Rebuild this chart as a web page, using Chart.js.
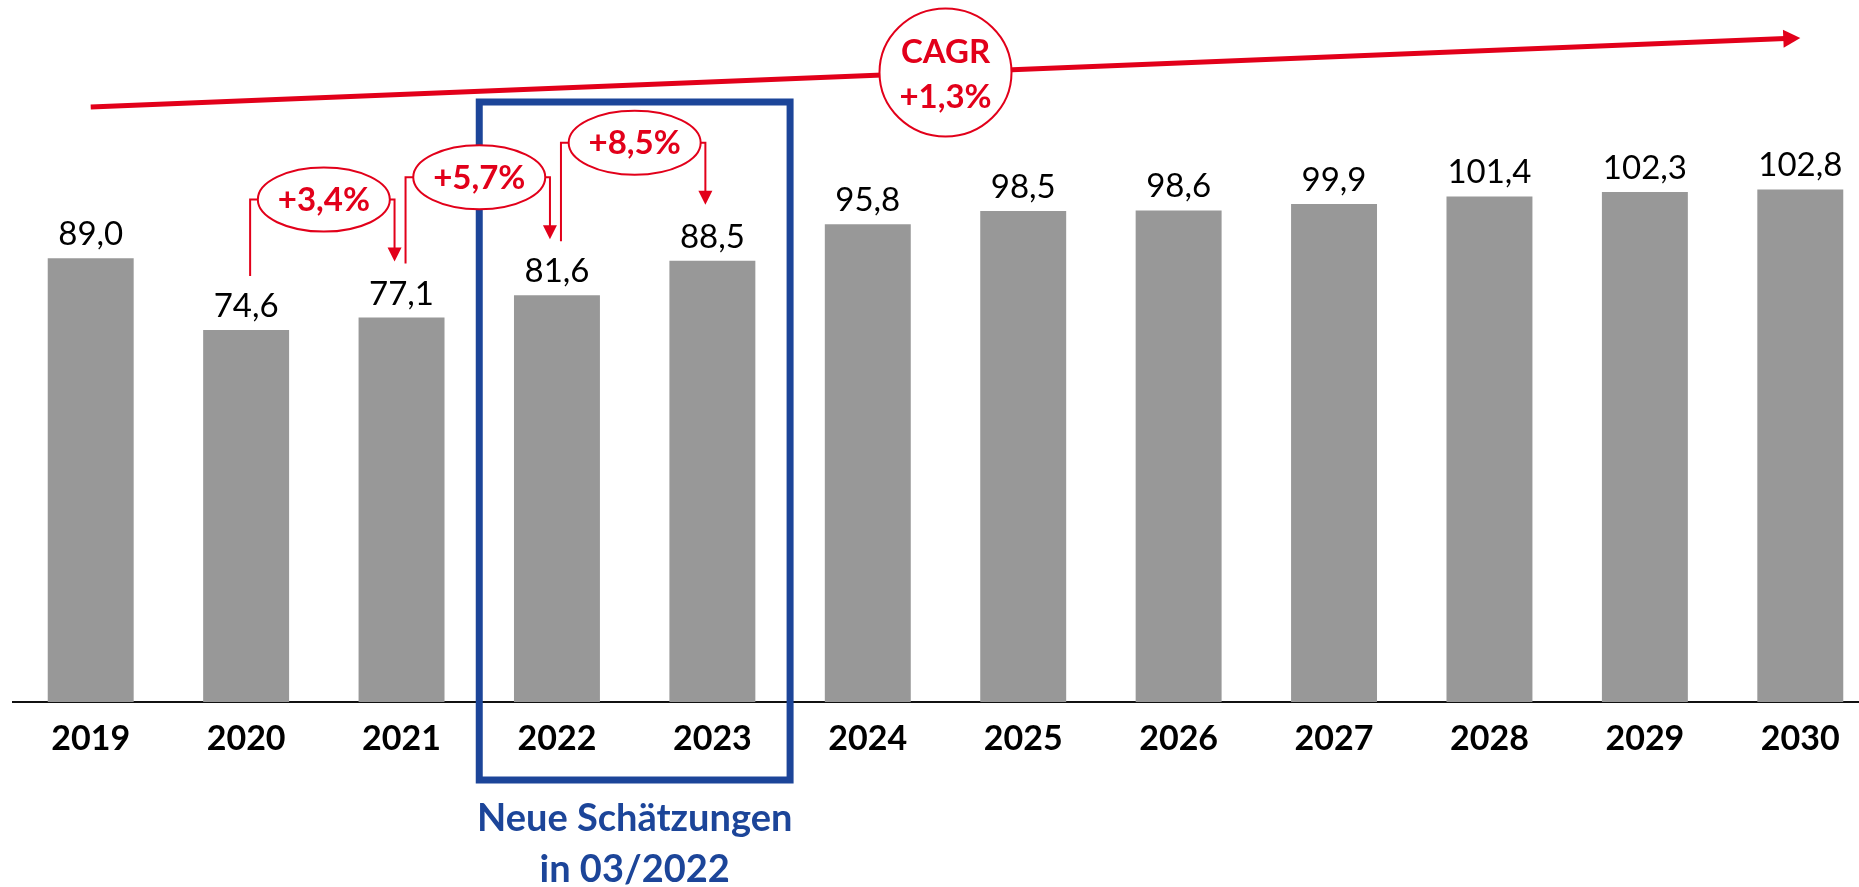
<!DOCTYPE html>
<html>
<head>
<meta charset="utf-8">
<script src="https://cdn.jsdelivr.net/npm/chart.js@4/dist/chart.umd.min.js"></script>
<style>
  html, body { margin: 0; padding: 0; background: #fff; overflow: hidden; }
  #wrap { position: relative; width: 1878px; height: 887px; }
</style>
</head>
<body>
<div id="wrap"><canvas id="chart"></canvas></div>
<script>
// data
const years = ["2019", "2020", "2021", "2022", "2023", "2024", "2025", "2026", "2027", "2028", "2029", "2030"];
const values = [89.0, 74.6, 77.1, 81.6, 88.5, 95.8, 98.5, 98.6, 99.9, 101.4, 102.3, 102.8];
const valueLabels = ["89,0", "74,6", "77,1", "81,6", "88,5", "95,8", "98,5", "98,6", "99,9", "101,4", "102,3", "102,8"];

// year-on-year growth callouts (from index -> to index)
const growthFrom = [1, 2, 3];
const growthTo = [2, 3, 4];
const growthLabels = ["+3,4%", "+5,7%", "+8,5%"];

const cagrLines = ["CAGR", "+1,3%"];
const highlightFrom = 3;
const highlightTo = 4;
const highlightCaption = ["Neue Schätzungen", "in 03/2022"];

const RED = "#E2001A";
const BLUE = "#1C4599";
const GREY = "#989898";

Chart.defaults.font.family = "Lato";

const annotations = {
  id: "annotations",
  afterDatasetsDraw(chart) {
    const { ctx, chartArea, scales: { x } } = chart;
    const bars = chart.getDatasetMeta(0).data;
    const base = chartArea.bottom;
    const step = x.getPixelForValue(1) - x.getPixelForValue(0);
    ctx.save();

    // value labels
    ctx.fillStyle = "#000";
    ctx.font = "33px Lato";
    ctx.textAlign = "center";
    ctx.textBaseline = "alphabetic";
    bars.forEach((b, i) => ctx.fillText(valueLabels[i], b.x, b.y - 13));

    // highlight box + caption
    const bx0 = x.getPixelForValue(highlightFrom) - step / 2;
    const bx1 = x.getPixelForValue(highlightTo) + step / 2;
    ctx.strokeStyle = BLUE;
    ctx.lineWidth = 7;
    ctx.strokeRect(bx0, base - 600, bx1 - bx0, 678);
    ctx.fillStyle = BLUE;
    ctx.font = "bold 38px Lato";
    ctx.fillText(highlightCaption[0], (bx0 + bx1) / 2, base + 129);
    ctx.fillText(highlightCaption[1], (bx0 + bx1) / 2, base + 180);

    // growth callouts
    ctx.lineWidth = 2;
    growthFrom.forEach((from, k) => {
      const a = bars[from], b = bars[growthTo[k]];
      const xa = a.x + 4, xb = b.x - 7;
      const ya = a.y - 54, yb = b.y - 56;
      const cy = Math.min(a.y, b.y) - 118;
      const cx = (a.x + b.x) / 2;
      const rx = 66, ry = 32;
      ctx.strokeStyle = RED;
      ctx.fillStyle = RED;
      ctx.beginPath();
      ctx.moveTo(xa, ya);
      ctx.lineTo(xa, cy);
      ctx.lineTo(cx - rx + 2, cy);
      ctx.moveTo(cx + rx - 2, cy);
      ctx.lineTo(xb, cy);
      ctx.lineTo(xb, yb - 12);
      ctx.stroke();
      ctx.beginPath();
      ctx.moveTo(xb - 7, yb - 14);
      ctx.lineTo(xb + 7, yb - 14);
      ctx.lineTo(xb, yb);
      ctx.closePath();
      ctx.fill();
      ctx.beginPath();
      ctx.ellipse(cx, cy, rx, ry, 0, 0, Math.PI * 2);
      ctx.fillStyle = "#fff";
      ctx.fill();
      ctx.stroke();
      ctx.fillStyle = RED;
      ctx.font = "bold 33px Lato";
      ctx.textBaseline = "middle";
      ctx.fillText(growthLabels[k], cx, cy + 1);
      ctx.textBaseline = "alphabetic";
    });

    // CAGR arrow
    const x0 = x.getPixelForValue(0), y0 = chartArea.top + 103;
    const x1 = x.getPixelForValue(years.length - 1), y1 = chartArea.top + 34;
    const ang = Math.atan2(y1 - y0, x1 - x0);
    const head = 17;
    ctx.strokeStyle = RED;
    ctx.fillStyle = RED;
    ctx.lineWidth = 5;
    ctx.beginPath();
    ctx.moveTo(x0, y0);
    ctx.lineTo(x1 - Math.cos(ang) * (head - 2), y1 - Math.sin(ang) * (head - 2));
    ctx.stroke();
    ctx.beginPath();
    ctx.moveTo(x1, y1);
    ctx.lineTo(x1 - Math.cos(ang) * head - Math.sin(ang) * 9, y1 - Math.sin(ang) * head + Math.cos(ang) * 9);
    ctx.lineTo(x1 - Math.cos(ang) * head + Math.sin(ang) * 9, y1 - Math.sin(ang) * head - Math.cos(ang) * 9);
    ctx.closePath();
    ctx.fill();

    const ccx = (x.getPixelForValue(5) + x.getPixelForValue(6)) / 2;
    const ccy = y0 + (ccx - x0) * (y1 - y0) / (x1 - x0);
    ctx.lineWidth = 2;
    ctx.beginPath();
    ctx.ellipse(ccx, ccy, 66, 64, 0, 0, Math.PI * 2);
    ctx.fillStyle = "#fff";
    ctx.fill();
    ctx.stroke();
    ctx.fillStyle = RED;
    ctx.font = "bold 33px Lato";
    ctx.fillText(cagrLines[0], ccx, ccy - 10);
    ctx.fillText(cagrLines[1], ccx, ccy + 35);

    ctx.restore();
  }
};

new Chart(document.getElementById("chart"), {
  type: "bar",
  data: {
    labels: years,
    datasets: [{
      data: values,
      backgroundColor: GREY,
      barPercentage: 0.553,
      categoryPercentage: 1
    }]
  },
  options: {
    responsive: true,
    maintainAspectRatio: false,
    animation: false,
    layout: { padding: { top: 4, left: 13, right: 0, bottom: 0 } },
    plugins: { legend: { display: false }, tooltip: { enabled: false } },
    scales: {
      x: {
        grid: { display: false, drawTicks: false },
        border: { display: true, color: "#111", width: 2 },
        ticks: { color: "#000", font: { size: 34, weight: "bold" }, padding: 17, maxRotation: 0 },
        afterFit(scale) { scale.height = 185; }
      },
      y: { display: false, min: 0, max: 140 }
    }
  },
  plugins: [annotations]
});
</script>
</body>
</html>
